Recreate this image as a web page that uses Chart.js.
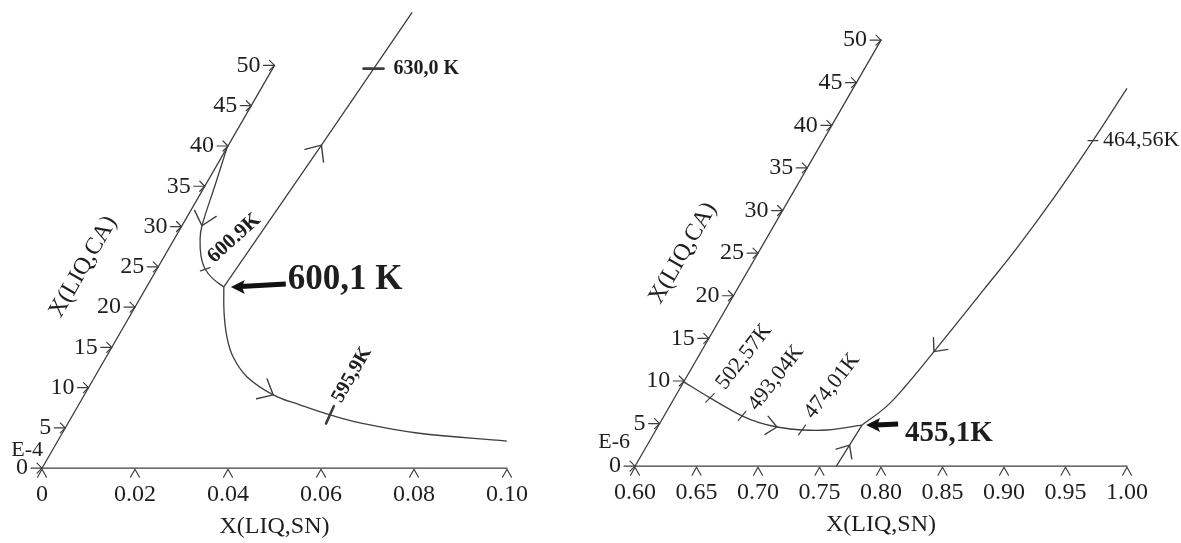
<!DOCTYPE html>
<html>
<head>
<meta charset="utf-8">
<script src="https://cdn.jsdelivr.net/npm/chart.js@4.4.1/dist/chart.umd.min.js"></script>
<style>
  html, body { margin: 0; padding: 0; background: #fff; }
  #wrap { position: relative; width: 1181px; height: 543px; overflow: hidden; background: #fff; }
  canvas { position: absolute; top: 0; }
  #left { left: 0; }
  #right { left: 590px; }
</style>
</head>
<body>
<div id="wrap">
  <canvas id="left" width="590" height="543"></canvas>
  <canvas id="right" width="591" height="543"></canvas>
</div>
<script>
const FONT = "'Liberation Serif', 'Times New Roman', serif";
const INK = "#1e1e1e";
const LINE = "#3e3e3e";

// left diagram: X(LIQ,SN) along the base, X(LIQ,CA) (E-4) along the slanted side
const leftSnTicks = ["0", "0.02", "0.04", "0.06", "0.08", "0.10"];
const leftCaTicks = ["0", "5", "10", "15", "20", "25", "30", "35", "40", "45", "50"];
const leftUpperSn = [0.0000, 0.0021, 0.0043, 0.0055, 0.0079, 0.0104, 0.0133, 0.0166];
const leftUpperCa = [39.8, 35.1, 30.1, 28.5, 26.3, 24.7, 23.5, 22.5];
const leftLowerSn = [0.0166, 0.0198, 0.0234, 0.0272, 0.0327, 0.0406, 0.0476, 0.0553, 0.0628, 0.0763, 0.0966];
const leftLowerCa = [22.5, 19.35, 16.35, 13.86, 11.36, 9.11, 7.87, 6.62, 5.62, 4.37, 3.37];
const leftRidgeSn = [0.0166, 0.0200, 0.0230];
const leftRidgeCa = [22.5, 40.1, 56.6];
const leftTempLabels = ["600.9K", "630,0 K", "595,9K"];
const leftTempSn = [0.0104, 0.0217, 0.0553];
const leftTempCa = [24.7, 49.6, 6.62];
const leftEutLabel = "600,1 K";
const leftEutSn = 0.0166;
const leftEutCa = 22.5;

// right diagram: X(LIQ,SN) along the base, X(LIQ,CA) (E-6) along the slanted side
const rightSnTicks = ["0.60", "0.65", "0.70", "0.75", "0.80", "0.85", "0.90", "0.95", "1.00"];
const rightCaTicks = ["0", "5", "10", "15", "20", "25", "30", "35", "40", "45", "50"];
const rightLowSn = [0.6000, 0.6289, 0.6634, 0.6813, 0.6970, 0.7188, 0.7391, 0.7653];
const rightLowCa = [9.9, 8.02, 5.90, 5.07, 4.60, 4.25, 4.25, 4.83];
const rightUpSn = [0.7653, 0.7762, 0.7822, 0.7893, 0.7953, 0.8007, 0.8079, 0.8144, 0.8195, 0.8226];
const rightUpCa = [4.83, 6.96, 9.32, 13.44, 17.22, 20.75, 25.47, 31.37, 38.21, 44.34];
const rightBaseSn = [0.7637, 0.7645, 0.7653];
const rightBaseCa = [0.0, 2.48, 4.83];
const rightTempLabels = ["502,57K", "493,04K", "474,01K", "464,56K"];
const rightTempSn = [0.6289, 0.6634, 0.7188, 0.8195];
const rightTempCa = [8.02, 5.90, 4.25, 38.21];
const rightEutLabel = "455,1K";
const rightEutSn = 0.7653;
const rightEutCa = 4.83;

// the slanted axis is drawn at 60 degrees, so a point moves right by half of its CA length
function series(sn, ca, shift) {
  return sn.map((s, i) => ({ x: s + shift * ca[i], y: ca[i] }));
}

function curve(data, tension) {
  return {
    data, showLine: true, tension,
    borderColor: LINE, borderWidth: 1.3,
    pointRadius: 0, fill: false, clip: false
  };
}

function makeOverlay(cfg) {
  return {
    id: "overlay",
    afterDatasetsDraw(chart) {
      const ctx = chart.ctx;
      const xs = chart.scales.x, ys = chart.scales.y;
      const P = (sn, ca) => ({ x: xs.getPixelForValue(sn + cfg.shift * ca), y: ys.getPixelForValue(ca) });
      const path = (pts, w) => {
        ctx.lineWidth = w;
        ctx.beginPath();
        pts.forEach((p, k) => k ? ctx.lineTo(p.x, p.y) : ctx.moveTo(p.x, p.y));
        ctx.stroke();
      };
      const text = (s, x, y, font, align, rot) => {
        ctx.save();
        ctx.translate(x, y);
        if (rot) ctx.rotate(rot * Math.PI / 180);
        ctx.font = font + " " + FONT;
        ctx.textAlign = align || "center";
        ctx.textBaseline = "middle";
        ctx.fillStyle = INK;
        ctx.fillText(s, 0, 0);
        ctx.restore();
      };

      ctx.save();
      ctx.strokeStyle = LINE;
      ctx.lineCap = "round";
      ctx.lineJoin = "round";

      // base axis and its ^ ticks
      const o = P(cfg.snMin, 0), e = P(cfg.snMax, 0);
      path([o, e], 1.3);
      xs.ticks.forEach(t => {
        const x = xs.getPixelForValue(t.value);
        path([{ x: x - 4.5, y: o.y + 9 }, { x, y: o.y + 1 }, { x: x + 4.5, y: o.y + 9 }], 1.2);
      });
      text(cfg.snTitle, (chart.chartArea.left + chart.chartArea.right) / 2, o.y + 59, "24px");

      // slanted CA axis
      path([o, P(cfg.snMin, cfg.caMax)], 1.3);
      cfg.caTicks.forEach(lbl => {
        const p = P(cfg.snMin, Number(lbl));
        path([{ x: p.x - 11, y: p.y }, p], 1.2);
        path([{ x: p.x - 5, y: p.y - 5 }, p, { x: p.x - 5, y: p.y + 5 }], 1.2);
        text(lbl, p.x - 14, p.y, "24px", "right");
      });
      text(cfg.expLabel, o.x + cfg.exp.dx, o.y + cfg.exp.dy, "22px", "right");
      const mid = P(cfg.snMin, cfg.caMax / 2);
      text(cfg.caTitle, mid.x - 75, mid.y, "24px", "center", -60);

      // direction chevrons on the curves
      cfg.arrows.forEach(a => {
        const pts = chart.getDatasetMeta(a.ds).data;
        const p = pts[a.i], prev = pts[a.i - 1], next = pts[a.i + 1];
        let ang = Math.atan2(next.y - prev.y, next.x - prev.x);
        if (a.dir < 0) ang += Math.PI;
        const L = cfg.chevron, h = 0.72;
        path([
          { x: p.x - L * Math.cos(ang - h), y: p.y - L * Math.sin(ang - h) },
          { x: p.x, y: p.y },
          { x: p.x - L * Math.cos(ang + h), y: p.y - L * Math.sin(ang + h) }
        ], 1.4);
      });

      // temperature marks
      cfg.tempLabels.forEach((lbl, i) => {
        const p = P(cfg.tempSn[i], cfg.tempCa[i]);
        const st = cfg.tempStyle[i];
        const a = st.angle * Math.PI / 180, h = st.len / 2;
        path([
          { x: p.x - h * Math.cos(a), y: p.y - h * Math.sin(a) },
          { x: p.x + h * Math.cos(a), y: p.y + h * Math.sin(a) }
        ], st.w);
        text(lbl, p.x + st.dx, p.y + st.dy, st.font, st.align, st.rot);
      });

      // invariant point arrow and label
      const j = P(cfg.eutSn, cfg.eutCa), s = cfg.eutStyle;
      const tip = { x: j.x + s.tipDx, y: j.y };
      const tail = { x: j.x + s.tailDx, y: j.y + s.tailDy };
      ctx.strokeStyle = "#111";
      ctx.lineCap = "butt";
      path([{ x: tip.x + 10, y: tip.y + s.tailDy * 0.15 }, tail], 5);
      ctx.fillStyle = "#111";
      ctx.beginPath();
      ctx.moveTo(tip.x, tip.y);
      ctx.lineTo(tip.x + 14, tip.y - 7);
      ctx.lineTo(tip.x + 11, tip.y);
      ctx.lineTo(tip.x + 14, tip.y + 7);
      ctx.closePath();
      ctx.fill();
      text(cfg.eutLabel, tail.x + s.textDx, j.y + s.textDy, s.font, "left");

      ctx.restore();
    }
  };
}

function baseOptions(snLabels, caMax, pad) {
  return {
    responsive: false,
    animation: false,
    events: [],
    layout: { padding: pad },
    plugins: { legend: { display: false }, tooltip: { enabled: false } },
    scales: {
      x: {
        type: "linear",
        min: parseFloat(snLabels[0]),
        max: parseFloat(snLabels[snLabels.length - 1]),
        afterBuildTicks: sc => { sc.ticks = snLabels.map(v => ({ value: parseFloat(v) })); },
        grid: { display: false, drawTicks: false },
        border: { display: false },
        ticks: {
          padding: 12, color: INK, maxRotation: 0, autoSkip: false,
          font: { family: FONT, size: 24 },
          callback: (v, i) => snLabels[i]
        }
      },
      y: { type: "linear", display: false, min: 0, max: caMax }
    }
  };
}

const leftShift = 0.1 / 100;
new Chart(document.getElementById("left"), {
  type: "scatter",
  data: {
    datasets: [
      curve(series(leftUpperSn, leftUpperCa, leftShift), 0.4),
      curve(series(leftLowerSn, leftLowerCa, leftShift), 0.4),
      curve(series(leftRidgeSn, leftRidgeCa, leftShift), 0)
    ]
  },
  options: baseOptions(leftSnTicks, 58, { left: 42, right: 83, top: 1, bottom: 22 }),
  plugins: [makeOverlay({
    shift: leftShift, snMin: 0, snMax: 0.1, caMax: 50,
    caTicks: leftCaTicks, snTitle: "X(LIQ,SN)", caTitle: "X(LIQ,CA)",
    expLabel: "E-4", exp: { dx: 1, dy: -18 },
    chevron: 17,
    arrows: [{ ds: 0, i: 2, dir: 1 }, { ds: 2, i: 1, dir: 1 }, { ds: 1, i: 5, dir: 1 }],
    tempLabels: leftTempLabels, tempSn: leftTempSn, tempCa: leftTempCa,
    tempStyle: [
      { angle: -18, len: 10, w: 1.3, font: "bold 21px", dx: 29, dy: -31, rot: -42, align: "center" },
      { angle: 0, len: 20, w: 2.6, font: "bold 20px", dx: 20, dy: 0, rot: 0, align: "left" },
      { angle: -66, len: 19, w: 2.6, font: "bold 20px", dx: 22, dy: -40, rot: -60, align: "center" }
    ],
    eutLabel: leftEutLabel, eutSn: leftEutSn, eutCa: leftEutCa,
    eutStyle: { tipDx: 7, tailDx: 62, tailDy: -3, textDx: 2, textDy: -7, font: "bold 35px" }
  })]
});

const rightShift = 0.4 / 100;
new Chart(document.getElementById("right"), {
  type: "scatter",
  data: {
    datasets: [
      curve(series(rightLowSn, rightLowCa, rightShift), 0.4),
      curve(series(rightUpSn, rightUpCa, rightShift), 0.4),
      curve(series(rightBaseSn, rightBaseCa, rightShift), 0)
    ]
  },
  options: baseOptions(rightSnTicks, 54, { left: 45, right: 54, top: 6, bottom: 24 }),
  plugins: [makeOverlay({
    shift: rightShift, snMin: 0.6, snMax: 1.0, caMax: 50,
    caTicks: rightCaTicks, snTitle: "X(LIQ,SN)", caTitle: "X(LIQ,CA)",
    expLabel: "E-6", exp: { dx: -5, dy: -24 },
    chevron: 14,
    arrows: [{ ds: 0, i: 4, dir: 1 }, { ds: 1, i: 3, dir: -1 }, { ds: 2, i: 1, dir: 1 }],
    tempLabels: rightTempLabels, tempSn: rightTempSn, tempCa: rightTempCa,
    tempStyle: [
      { angle: -45, len: 12, w: 1.2, font: "22px", dx: 34, dy: -41, rot: -52, align: "center" },
      { angle: -50, len: 12, w: 1.2, font: "22px", dx: 34, dy: -38, rot: -52, align: "center" },
      { angle: -55, len: 12, w: 1.2, font: "22px", dx: 30, dy: -44, rot: -52, align: "center" },
      { angle: 0, len: 10, w: 1.2, font: "22px", dx: 10, dy: 0, rot: 0, align: "left" }
    ],
    eutLabel: rightEutLabel, eutSn: rightEutSn, eutCa: rightEutCa,
    eutStyle: { tipDx: 4, tailDx: 36, tailDy: -1, textDx: 7, textDy: 8, font: "bold 29px" }
  })]
});
</script>
</body>
</html>
